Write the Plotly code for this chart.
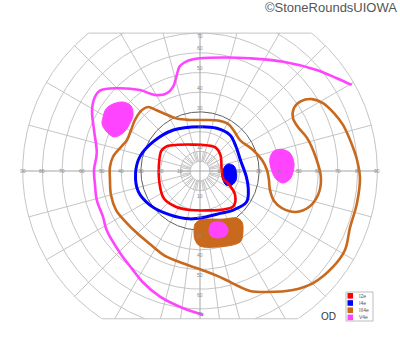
import numpy as np
import plotly.graph_objects as go

W, H = 400, 352
CX, CY = 200, 171      # pixel position of fixation point
PPD = 1.97             # pixels per degree
TOP, BOT, RMAX = 70, -75, 90

# ---------------- data (degrees of visual field, x = right, y = up) ----------------
i2e_x = [-20.6, -19.6, -16.8, -11.0, -4.0, 3.0, 7.8, 10.4, 11.0, 11.8, 15.0, 17.8, 17.0, 12.0, 4.0, -5.0, -12.0, -18.3, -20.6]
i2e_y = [6.0, 10.3, 12.6, 13.3, 13.4, 13.1, 12.0, 8.0, 0.5, -4.0, -7.2, -12.2, -17.8, -19.5, -20.0, -19.8, -18.3, -14.0, -6.0]

i4e_x = [0.0, -13.5, -23.7, -30.5, -32.7, -31.3, -25.4, -15.2, -5.1, 3.4, 10.2, 16.9, 23.7, 24.5, 23.5, 20.5, 18.3, 15.2, 8.5]
i4e_y = [22.5, 20.8, 14.9, 7.3, -1.2, -10.5, -17.3, -22.3, -24.3, -23.2, -21.5, -19.8, -15.6, -8.8, -2.9, 5.6, 12.3, 18.3, 21.7]

i4e_spot_x = [14.7, 17.3, 18.5, 18.3, 16.2, 13.2, 11.7, 11.7, 12.7]
i4e_spot_y = [3.6, 2.5, -0.5, -4.6, -7.1, -7.1, -4.6, 0.0, 2.5]

iii4e_x = [-35.0, -33.0, -29.9, -26.4, -22.3, -18.3, -11.7, -5.1, 2.5, 9.1, 14.2, 17.3, 20.3, 26.9, 31.5, 34.0,
           35.0, 35.5, 37.6, 41.6, 48.7, 55.3, 59.9, 61.4, 58.9, 54.3, 49.7, 47.2, 47.7, 51.3, 56.9, 62.4,
           68.0, 72.6, 76.6, 79.7, 81.2, 79.7, 76.1, 73.6, 67.5, 57.4, 47.2, 34.0, 25.4, 19.3, 12.2, 2.5,
           -7.6, -17.8, -25.4, -32.0, -38.1, -42.6, -45.2, -45.7, -45.7, -44.2, -40.1, -37.1]
iii4e_y = [20.8, 25.9, 30.5, 32.5, 31.0, 29.2, 26.6, 25.9, 25.9, 25.6, 23.9, 20.3, 15.7, 10.7, 5.6, 0.5,
           -4.6, -9.6, -15.2, -18.8, -20.8, -18.3, -12.2, -3.6, 6.6, 16.8, 22.3, 26.9, 32.0, 35.5, 36.5, 34.5,
           29.4, 23.4, 14.7, 5.6, -3.6, -16.2, -28.9, -40.1, -48.7, -56.9, -60.4, -61.4, -60.9, -58.4, -54.8, -50.8,
           -47.2, -43.1, -37.1, -31.5, -25.4, -19.8, -12.2, -4.6, 2.0, 7.1, 12.2, 15.7]

iii4e_spot_x = [-3.0, -2.5, 0.0, 11.7, 18.8, 21.3, 21.8, 20.8, 18.3, 8.6, 0.0, -2.5]
iii4e_spot_y = [-29.9, -26.9, -24.9, -24.4, -23.9, -25.9, -31.0, -35.5, -37.1, -38.6, -38.1, -35.0]

v4e_x = [77.0, 69.4, 59.2, 42.3, 25.4, 12.7, 0.0, -6.6, -10.2, -11.8, -13.6, -16.9, -22.8, -30.5, -42.3,
         -50.8, -53.3, -54.8, -53.8, -52.4, -53.8, -53.3, -52.4, -49.2, -47.4, -40.6, -34.0, -29.4, -20.3, -8.5, 1.7]
v4e_y = [43.7, 47.1, 51.3, 55.5, 57.2, 57.6, 57.2, 55.8, 53.3, 48.7, 42.8, 39.4, 38.6, 41.1, 42.0,
         40.8, 37.7, 31.0, 20.8, 9.1, 0.5, -7.1, -14.7, -23.4, -30.0, -41.6, -50.3, -56.1, -63.8, -69.7, -73.1]

v4e_spot1_x = [-49.2, -47.7, -44.2, -39.1, -35.0, -34.0, -36.0, -39.1, -43.7, -47.7, -49.7]
v4e_spot1_y = [27.4, 31.5, 34.0, 35.0, 33.0, 28.4, 23.4, 19.3, 17.3, 20.3, 23.9]
v4e_spot2_x = [41.5, 45.7, 47.7, 47.2, 45.7, 42.1, 38.6, 36.0, 35.5, 37.6]
v4e_spot2_y = [11.0, 9.1, 4.1, -0.5, -4.1, -6.1, -4.1, 1.5, 6.6, 10.2]
v4e_spot3_x = [6.1, 10.2, 13.2, 14.2, 12.7, 9.1, 5.6, 4.6]
v4e_spot3_y = [-26.4, -25.9, -27.4, -30.5, -33.0, -34.0, -33.0, -29.9]

legend_names = ["I2e", "I4e", "III4e", "V4e"]
legend_colors = ["#ff0000", "#0000ff", "#c8691e", "#ff44ff"]
C_I2E, C_I4E, C_III4E, C_V4E = legend_colors

h_ticks = [10, 20, 30, 40, 50, 60, 70, 80, 90]
v_ticks = [10, 20, 30, 40, 50, 60, 70]

fig = go.Figure()

# ---------------- grid ----------------
def clip(x, y):
    x = np.asarray(x, dtype=float); y = np.asarray(y, dtype=float)
    bad = (y > TOP + 1e-9) | (y < BOT - 1e-9)
    xo = [None if b else float(v) for v, b in zip(x, bad)]
    yo = [None if b else float(v) for v, b in zip(y, bad)]
    return xo + [None], yo + [None]

gx, gy = [], []
for r in range(10, 100, 10):
    if r == 30:
        continue
    t = np.linspace(0, 2 * np.pi, 1441)
    a, b = clip(r * np.cos(t), r * np.sin(t))
    gx += a; gy += b
# inner 5 deg circle
t = np.linspace(0, 2 * np.pi, 181)
gx += list(5 * np.cos(t)) + [None]; gy += list(5 * np.sin(t)) + [None]

def ray(ang, r0):
    a = np.radians(ang)
    s = np.sin(a)
    rend = RMAX
    if s > 1e-9:
        rend = min(rend, TOP / s)
    elif s < -1e-9:
        rend = min(rend, -BOT / -s)
    return [r0 * np.cos(a), rend * np.cos(a), None], [r0 * np.sin(a), rend * np.sin(a), None]

for ang in range(0, 360, 15):
    if ang % 90 == 0:
        continue
    a, b = ray(ang, 5)
    gx += a; gy += b
for ang in range(0, 360, 10):
    a = np.radians(ang)
    gx += [5 * np.cos(a), 10 * np.cos(a), None]; gy += [5 * np.sin(a), 10 * np.sin(a), None]
for ang in (262.5, 277.5):
    a, b = ray(ang, 30)
    gx += a; gy += b
# outer boundary chords
xt = np.sqrt(RMAX ** 2 - TOP ** 2); xb = np.sqrt(RMAX ** 2 - BOT ** 2)
gx += [-xt, xt, None, -xb, xb, None]; gy += [TOP, TOP, None, BOT, BOT, None]

fig.add_trace(go.Scatter(x=gx, y=gy, mode="lines", line=dict(color="#bdbdbd", width=0.9),
                         hoverinfo="skip", connectgaps=False))
# main axes
fig.add_trace(go.Scatter(x=[-RMAX, RMAX, None, 0, 0], y=[0, 0, None, BOT, TOP], mode="lines",
                         line=dict(color="#a4a4a4", width=1), hoverinfo="skip"))
# 30 degree circle
t = np.linspace(0, 2 * np.pi, 721)
fig.add_trace(go.Scatter(x=30 * np.cos(t), y=30 * np.sin(t), mode="lines",
                         line=dict(color="#606060", width=1), hoverinfo="skip"))

# ---------------- isopters ----------------
def add_fill(xs, ys, color):
    x, y = list(xs) + [xs[0]], list(ys) + [ys[0]]
    fig.add_trace(go.Scatter(x=x, y=y, mode="lines", fill="toself", fillcolor=color,
                             line=dict(color=color, width=1, shape="spline", smoothing=1.0),
                             hoverinfo="skip"))

def add_line(xs, ys, color, width, close=True):
    if close:
        x, y = list(xs) + [xs[0]], list(ys) + [ys[0]]
    else:
        x, y = xs, ys
    fig.add_trace(go.Scatter(x=x, y=y, mode="lines",
                             line=dict(color=color, width=width, shape="spline", smoothing=1.0),
                             hoverinfo="skip"))

add_fill(iii4e_spot_x, iii4e_spot_y, C_III4E)
add_fill(v4e_spot3_x, v4e_spot3_y, C_V4E)
add_fill(v4e_spot1_x, v4e_spot1_y, C_V4E)
add_fill(v4e_spot2_x, v4e_spot2_y, C_V4E)
add_fill(i4e_spot_x, i4e_spot_y, C_I4E)

add_line(iii4e_x, iii4e_y, C_III4E, 2.6)
add_line(v4e_x, v4e_y, C_V4E, 2.6, close=False)
add_line(i4e_x, i4e_y, C_I4E, 3.0)
add_line(i2e_x, i2e_y, C_I2E, 2.6)

# ---------------- tick labels ----------------
ann = []
lab_font = dict(size=5, color="#8a8a8a", family="Liberation Sans, Arial")
for v in h_ticks:
    for sgn in (-1, 1):
        ann.append(dict(x=sgn * v, y=0, text=str(v), showarrow=False, font=lab_font,
                        xref="x", yref="y", xanchor="center", yanchor="middle"))
for v in v_ticks:
    ytop = v + 2.2 if v < 70 else 68.6
    ann.append(dict(x=0, y=ytop, text=str(v), showarrow=False, font=lab_font,
                    xref="x", yref="y", xanchor="center", yanchor="middle"))
    ann.append(dict(x=0, y=-(v + 2.8), text=str(v), showarrow=False, font=lab_font,
                    xref="x", yref="y", xanchor="center", yanchor="middle"))

def px(x):
    return x / W

def py(y):
    return 1 - y / H

# OD label and copyright
ann.append(dict(x=px(328), y=py(316), xref="paper", yref="paper", text="OD", showarrow=False,
                font=dict(size=10, color="#333333", family="Liberation Sans, Arial"),
                xanchor="center", yanchor="middle"))
ann.append(dict(x=px(399), y=py(8), xref="paper", yref="paper", text="©StoneRoundsUIOWA", showarrow=False,
                font=dict(size=13, color="#555555", family="Liberation Sans, Arial"),
                xanchor="right", yanchor="middle"))

# ---------------- legend (drawn) ----------------
shapes = [dict(type="rect", xref="paper", yref="paper", x0=px(346), x1=px(373), y0=py(292), y1=py(321),
               line=dict(color="#bdbdbd", width=1), fillcolor="white", layer="above")]
rows = [295.8, 303.0, 310.2, 317.4]
for name, col, yc in zip(legend_names, legend_colors, rows):
    shapes.append(dict(type="rect", xref="paper", yref="paper", x0=px(347.5), x1=px(353),
                       y0=py(yc - 2.8), y1=py(yc + 2.8), line=dict(width=0), fillcolor=col, layer="above"))
    ann.append(dict(x=px(356.5), y=py(yc), xref="paper", yref="paper", text=name, showarrow=False,
                    font=dict(size=5, color="#555555", family="Liberation Sans, Arial"),
                    xanchor="left", yanchor="middle"))

fig.update_layout(
    width=W, height=H, autosize=False,
    margin=dict(l=0, r=0, t=0, b=0, pad=0),
    paper_bgcolor="white", plot_bgcolor="white",
    showlegend=False, annotations=ann, shapes=shapes,
    xaxis=dict(range=[(0 - CX) / PPD, (W - CX) / PPD], visible=False, fixedrange=True),
    yaxis=dict(range=[(CY - H) / PPD, CY / PPD], visible=False, fixedrange=True),
)

fig.write_html("out.html")
